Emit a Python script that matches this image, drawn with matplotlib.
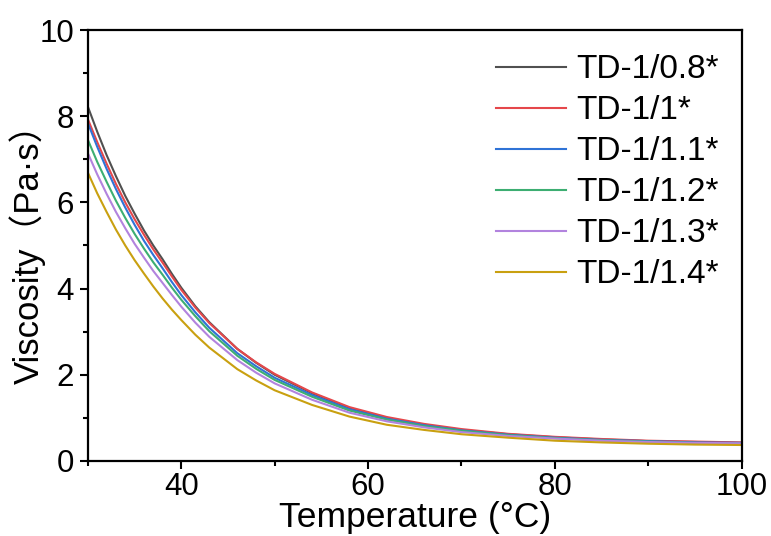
import matplotlib
matplotlib.use("Agg")
import matplotlib.pyplot as plt
from matplotlib.ticker import MultipleLocator

# values
temps = [30, 31, 32, 33, 34, 35, 36, 37, 38, 39, 40, 41.5, 43, 46, 48, 50, 54, 58, 62, 66, 70, 75, 80, 85, 90, 95, 100]
td_08 = [8.22, 7.64, 7.10, 6.61, 6.15, 5.74, 5.35, 5.00, 4.68, 4.34, 4.02, 3.59, 3.22, 2.60, 2.28, 2.00, 1.57, 1.23, 1.00, 0.84, 0.72, 0.62, 0.55, 0.50, 0.46, 0.44, 0.42]
td_10 = [7.93, 7.40, 6.90, 6.43, 6.00, 5.61, 5.25, 4.91, 4.60, 4.28, 3.97, 3.56, 3.20, 2.60, 2.29, 2.02, 1.59, 1.25, 1.02, 0.86, 0.74, 0.63, 0.56, 0.51, 0.47, 0.45, 0.43]
td_11 = [7.84, 7.29, 6.78, 6.31, 5.88, 5.48, 5.11, 4.78, 4.47, 4.15, 3.85, 3.45, 3.09, 2.50, 2.20, 1.93, 1.53, 1.20, 0.98, 0.83, 0.71, 0.61, 0.54, 0.49, 0.46, 0.43, 0.42]
td_12 = [7.45, 6.94, 6.48, 6.04, 5.64, 5.27, 4.93, 4.61, 4.32, 4.02, 3.74, 3.36, 3.01, 2.44, 2.14, 1.88, 1.49, 1.17, 0.96, 0.81, 0.70, 0.60, 0.53, 0.48, 0.45, 0.42, 0.41]
td_13 = [7.14, 6.65, 6.20, 5.78, 5.40, 5.04, 4.72, 4.41, 4.13, 3.85, 3.58, 3.21, 2.88, 2.34, 2.05, 1.80, 1.42, 1.12, 0.92, 0.78, 0.67, 0.58, 0.52, 0.47, 0.44, 0.42, 0.41]
td_14 = [6.69, 6.21, 5.78, 5.37, 5.00, 4.66, 4.35, 4.05, 3.77, 3.51, 3.27, 2.93, 2.63, 2.13, 1.87, 1.64, 1.30, 1.03, 0.84, 0.72, 0.62, 0.54, 0.47, 0.43, 0.40, 0.38, 0.37]

labels = ["TD-1/0.8*", "TD-1/1*", "TD-1/1.1*", "TD-1/1.2*", "TD-1/1.3*", "TD-1/1.4*"]
colors = ["#505050", "#E5474B", "#2F73D6", "#3DAE72", "#B283DE", "#C9A010"]

plt.rcParams['font.family'] = ['Liberation Sans', 'Noto Sans CJK SC']

fig = plt.figure(figsize=(7.71, 5.36), dpi=100)
ax = fig.add_axes([0.114, 0.14, 0.848, 0.804])

series = [td_08, td_10, td_11, td_12, td_13, td_14]
for ys, lab, col in zip(series, labels, colors):
    ax.plot(temps, ys, color=col, lw=1.5, label=lab)

ax.set_xlim(30, 100)
ax.set_ylim(0, 10)
ax.xaxis.set_major_locator(MultipleLocator(20))
ax.xaxis.set_minor_locator(MultipleLocator(10))
ax.yaxis.set_major_locator(MultipleLocator(2))
ax.yaxis.set_minor_locator(MultipleLocator(1))
ax.set_xticks([40, 60, 80, 100])

for s in ax.spines.values():
    s.set_linewidth(1.6)
ax.tick_params(which='major', length=6, width=1.5, labelsize=22.5, direction='out', pad=4)
ax.tick_params(which='minor', length=3.5, width=1.5, direction='out')
ax.tick_params(axis='x', which='major', pad=2)

ax.set_xlabel("Temperature (°C)", fontsize=25.5, labelpad=-1)
ax.set_ylabel("Viscosity（Pa·s）", fontsize=25, labelpad=-5)

ax.legend(loc='upper right', frameon=False, fontsize=24, handlelength=2.1,
          handletextpad=0.3, labelspacing=0.3, borderaxespad=0.2,
          bbox_to_anchor=(0.995, 0.99))

fig.savefig("out.png", dpi=100)
